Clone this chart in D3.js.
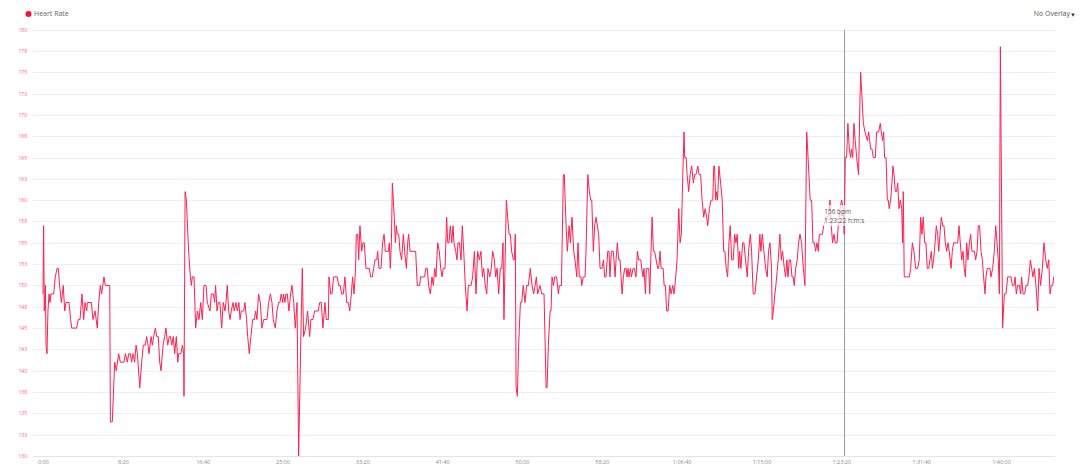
<!DOCTYPE html>
<html>
<head>
<meta charset="utf-8">
<script src="https://cdn.jsdelivr.net/npm/d3@7"></script>
<style>
  html, body { margin: 0; padding: 0; background: #ffffff; }
  svg { display: block; font-family: "Open Sans", "Noto Sans", sans-serif; }
</style>
</head>
<body>
<svg id="chart" width="1080" height="472"></svg>
<script>
// ---- data (elapsed seconds, heart rate bpm) ----
const timeSec = [0,4,8,15,19,25,31,38,44,50,67,77,88,96,104,115,127,136,144,163,173,180,211,221,232,244,255,263,274,278,303,313,326,340,349,359,367,382,390,418,422,434,449,459,474,484,507,516,528,537,547,555,564,574,583,591,606,618,628,641,649,658,664,677,685,693,704,712,722,731,739,752,762,770,781,791,798,806,816,825,835,844,850,864,873,881,883,890,898,912,923,929,935,946,956,967,977,988,998,1008,1021,1029,
1046,1054,1067,1075,1081,1090,1098,1108,1119,1129,1140,1146,1154,1163,1171,1179,1190,1198,1208,1217,1227,1234,1242,1257,1265,1275,1282,1292,1302,1313,1323,1332,1340,1350,1361,1371,1382,1403,1413,1424,1434,1442,1455,1465,1476,1484,1492,1501,1507,1515,1522,1530,1540,1551,1559,1570,1580,1591,1601,1616,1624,1632,1645,1657,1670,1678,1691,1701,1724,1733,1743,1753,1766,1774,1787,1791,1802,1810,1820,1843,1852,1862,1870,1881,1891,1902,1912,1921,1931,1939,1948,1958,1962,1971,1977,1985,1996,2004,2012,2023,2044,2052,2062,2071,2079,
2090,2096,2104,2117,2127,2136,2144,2163,2169,2175,2182,2188,2194,2200,2207,2213,2219,2228,2236,2246,2257,2265,2276,2284,2290,2299,2334,2344,2359,2365,2390,2397,2407,2415,2426,2436,2445,2453,2461,2472,2482,2491,2499,2507,2518,2528,2535,2543,2551,2560,2568,2574,2585,2593,2599,2608,2618,2626,2635,2645,2656,2664,2681,2691,2702,2712,2722,2733,2743,2752,2760,2770,2779,2787,2798,2808,2816,2827,2835,2844,2854,2864,2873,2881,2887,2902,2910,2919,2927,2935,2946,2952,2958,2963,2971,2979,2990,2998,3008,3019,3029,3040,3052,3063,3073,3082,3090,3098,3113,
3123,3138,3151,3157,3165,3176,3182,3188,3197,3205,3217,3228,3234,3247,3259,3265,3276,3284,3295,3303,3313,3324,3332,3343,3351,3359,3370,3374,3384,3395,3401,3412,3422,3430,3437,3447,3455,3464,3472,3480,3489,3501,3510,3518,3526,3537,3545,3551,3560,3572,3583,3589,3597,3606,3614,3627,3635,3643,3652,3658,3664,3670,3679,3685,3696,3704,3714,3723,3731,3744,3750,3758,3764,3773,3779,3794,3800,3808,3815,3823,3831,3840,3850,3856,3865,3871,3884,3890,3898,3906,3915,3925,3934,3944,3952,3963,3971,3982,3990,3998,4007,4015,4019,4028,4034,4044,4053,4063,4073,4082,4090,4101,4109,4119,4128,4138,4147,4157,4163,4174,4184,4195,4201,
4206,4213,4219,4225,4233,4244,4254,4263,4271,4279,4288,4296,4304,4313,4323,4332,4340,4348,4357,4363,4371,4382,4390,4400,4411,4419,4430,4438,4448,4459,4469,4480,4490,4496,4505,4515,4526,4536,4544,4553,4563,4567,4574,4584,4590,4605,4615,4624,4632,4643,4651,4659,4666,4674,4682,4691,4699,4705,4714,4724,4732,4741,4751,4762,4772,4783,4789,4797,4805,4814,4822,4831,4839,4847,4856,4862,4872,4881,4889,4904,4918,4929,4937,4945,4954,4962,4973,4981,4991,5002,5012,5018,5025,5033,5041,5050,5058,5064,5071,5079,5087,5096,5108,5117,5121,5138,5148,5163,5171,5184,5192,5200,5213,5221,5234,5244,
5250,5259,5265,5271,5280,5288,5294,5300,5309,5317,5323,5330,5338,5346,5353,5361,5369,5378,5384,5388,5394,5409,5426,5434,5445,5455,5465,5478,5488,5497,5505,5513,5522,5530,5538,5547,5555,5564,5570,5578,5587,5595,5603,5610,5618,5626,5635,5643,5651,5660,5668,5676,5687,5695,5703,5712,5720,5729,5737,5745,5754,5762,5770,5777,5785,5793,5802,5810,5818,5827,5833,5841,5850,5858,5866,5875,5883,5891,5900,5906,5914,5931,5937,5948,5958,5967,5975,5983,5990,5996,6010,6021,6031,6042,6052,6063,6071,6081,6088,6096,6104,6115,6123,6129,6138,6148,6157,6167,6175,6184,6192,6200,6209,6219,6230,6238,6248,6259,6269,6280,6290,6299,6307,6315,6324,6330];

const heartRate = [149,157,147,150,143,142,147,149,148,149,149,151,152,152,150,148,150,147,148,148,146,145,145,146,146,149,146,148,147,148,148,146,147,145,148,150,149,151,150,150,134,134,141,140,142,141,141,142,141,142,142,141,142,141,143,142,138,141,143,143,144,143,142,144,143,144,145,144,144,141,140,143,144,145,143,144,144,143,144,142,144,141,142,142,143,142,137,161,160,154,151,150,151,151,145,147,146,148,146,150,150,148,
147,149,149,148,150,147,148,148,145,148,147,148,150,147,146,147,148,147,148,147,148,146,147,147,148,146,144,142,144,146,146,147,146,149,148,145,146,146,148,149,148,146,145,147,148,148,149,148,149,148,149,149,147,149,150,148,145,148,130,145,152,144,145,147,144,146,146,147,147,148,148,145,148,146,146,151,149,149,151,151,150,150,149,149,151,148,148,147,149,151,149,152,156,156,153,157,154,155,155,152,152,151,151,152,153,
153,154,152,152,155,156,154,154,155,152,155,162,160,158,155,157,156,156,154,153,156,154,152,155,156,154,154,150,150,151,151,152,152,150,149,151,150,152,151,155,154,152,151,152,152,158,155,155,157,155,157,155,154,153,155,155,153,157,154,150,147,150,150,151,154,149,154,153,154,151,152,150,149,152,151,152,154,153,151,152,149,152,152,155,146,160,158,156,156,154,153,153,156,138,137,143,148,148,150,148,150,150,152,150,149,150,151,149,150,
149,149,138,138,143,147,147,151,150,151,151,149,150,150,163,163,157,154,157,155,158,154,153,151,155,151,151,150,151,151,154,163,161,160,160,154,157,158,157,156,152,152,153,151,151,154,154,151,154,154,151,153,155,153,153,149,151,152,152,151,152,151,152,151,152,152,151,154,153,153,152,151,152,149,152,152,149,154,158,154,154,153,152,152,154,152,152,150,150,147,147,150,149,150,149,151,153,159,155,156,163,168,165,165,163,161,163,164,162,163,163,164,163,163,160,158,159,158,157,159,160,160,164,
164,160,161,160,164,162,160,154,154,152,151,155,157,153,153,156,155,156,152,154,152,155,155,153,151,154,156,154,149,149,151,153,156,154,156,154,152,151,154,155,152,146,147,149,150,153,156,153,154,152,151,153,151,153,153,151,151,150,152,153,155,156,155,152,150,168,166,163,160,160,155,155,154,155,154,156,156,156,157,158,158,160,157,155,156,155,155,157,159,160,159,156,165,165,169,166,165,166,165,169,167,165,163,172,175,169,168,167,168,166,166,165,165,168,168,169,
168,167,168,165,165,160,160,159,160,162,164,163,161,161,162,159,160,159,155,161,151,151,151,152,155,154,152,152,153,158,156,158,155,155,152,152,153,154,152,153,155,157,156,154,156,158,157,157,155,154,155,154,152,154,155,155,155,155,157,155,153,154,152,151,155,153,155,156,154,154,154,153,154,157,157,154,153,151,149,151,152,152,151,152,154,157,155,153,149,178,145,149,149,151,151,151,150,150,151,149,150,150,149,151,149,149,150,150,151,153,152,151,152,150,147,152,150,152,155,153,152,153,149,150,150,151];

const yTickValues = [130,132.5,135,137.5,140,142.5,145,147.5,150,152.5,155,157.5,160,162.5,165,167.5,170,172.5,175,177.5,180];
const yTickLabels = ["130","133","135","138","140","143","145","148","150","153","155","158","160","163","165","168","170","173","175","178","180"];
const xTickValues = [0,500,1000,1500,2000,2500,3000,3500,4000,4500,5000,5500,6000];
const xTickLabels = ["0:00","8:20","16:40","25:00","33:20","41:40","50:00","58:20","1:06:40","1:15:00","1:23:20","1:31:40","1:40:00"];
const seriesName = "Heart Rate";
const overlayLabel = "No Overlay";
const hoverTime = 5018;
const tooltipLines = ["156 bpm", "1:23:22 h:m:s"];

// ---- drawing ----
const W = 1080, H = 472;
const gridLeft = 33, gridRight = 1055;
const lineColor = "#ff1f4f";

const svg = d3.select("#chart");

const x = d3.scaleLinear().domain([0, 6000]).range([43, 1001]);
const y = d3.scaleLinear().domain([130, 180]).range([456, 29.6]);

// horizontal gridlines
const grid = svg.append("g");
grid.selectAll("line")
  .data(yTickValues)
  .join("line")
  .attr("x1", gridLeft).attr("x2", gridRight)
  .attr("y1", d => Math.round(y(d)) + 0.5)
  .attr("y2", d => Math.round(y(d)) + 0.5)
  .attr("stroke", (d, i) => i === 0 ? "#e4e4ee" : "#eeeeee")
  .attr("stroke-width", 1);

// y labels
svg.append("g").selectAll("text")
  .data(yTickValues)
  .join("text")
  .attr("x", 27)
  .attr("y", d => Math.round(y(d)) + 0.5)
  .attr("dy", "0.35em")
  .attr("text-anchor", "end")
  .attr("font-size", 5)
  .attr("fill", "#ff5c7c")
  .text((d, i) => yTickLabels[i]);

// x axis labels
const xAxis = d3.axisBottom(x)
  .tickValues(xTickValues)
  .tickSize(0)
  .tickPadding(0)
  .tickFormat((d, i) => xTickLabels[i]);
const xg = svg.append("g").attr("transform", "translate(0,461)").call(xAxis);
xg.select(".domain").remove();
xg.selectAll("text")
  .attr("font-size", 5.5)
  .attr("font-family", "'Open Sans', 'Noto Sans', sans-serif")
  .attr("fill", "#8a8a8a")
  .attr("dy", "0.35em")
  .attr("y", 1.5);

// crosshair
svg.append("line")
  .attr("x1", Math.round(x(hoverTime)) + 0.5)
  .attr("x2", Math.round(x(hoverTime)) + 0.5)
  .attr("y1", y(180)).attr("y2", y(130))
  .attr("stroke", "#9a9a9a")
  .attr("stroke-width", 1);

// heart rate line
const points = timeSec.map((t, i) => [t, heartRate[i]]);
const line = d3.line().x(d => x(d[0])).y(d => y(d[1]));
svg.append("path")
  .datum(points)
  .attr("d", line)
  .attr("fill", "none")
  .attr("stroke", lineColor)
  .attr("stroke-width", 1)
  .attr("stroke-linejoin", "round");

// tooltip
const tipX = x(hoverTime) - 20;
const tip = svg.append("g");
tip.append("rect")
  .attr("x", tipX - 3).attr("y", 205)
  .attr("width", 47).attr("height", 21)
  .attr("fill", "#ffffff").attr("fill-opacity", 0.7);
tip.selectAll("text")
  .data(tooltipLines)
  .join("text")
  .attr("x", tipX)
  .attr("y", (d, i) => 214 + i * 8.5)
  .attr("font-size", 6.5)
  .attr("fill", "#555555")
  .text(d => d);

// legend
svg.append("circle")
  .attr("cx", 28.5).attr("cy", 14)
  .attr("r", 3)
  .attr("fill", "#ff0a3c");
svg.append("text")
  .attr("x", 34).attr("y", 14)
  .attr("dy", "0.35em")
  .attr("font-size", 7)
  .attr("fill", "#666666")
  .text(seriesName);

// overlay selector
const ov = svg.append("text")
  .attr("x", 1070).attr("y", 14)
  .attr("dy", "0.35em")
  .attr("text-anchor", "end")
  .attr("font-size", 7)
  .attr("fill", "#555555")
  .text(overlayLabel);
svg.append("path")
  .attr("d", d3.symbol().type(d3.symbolTriangle).size(6)())
  .attr("transform", "translate(1073,14.5) rotate(180)")
  .attr("fill", "#333333");
</script>
</body>
</html>
